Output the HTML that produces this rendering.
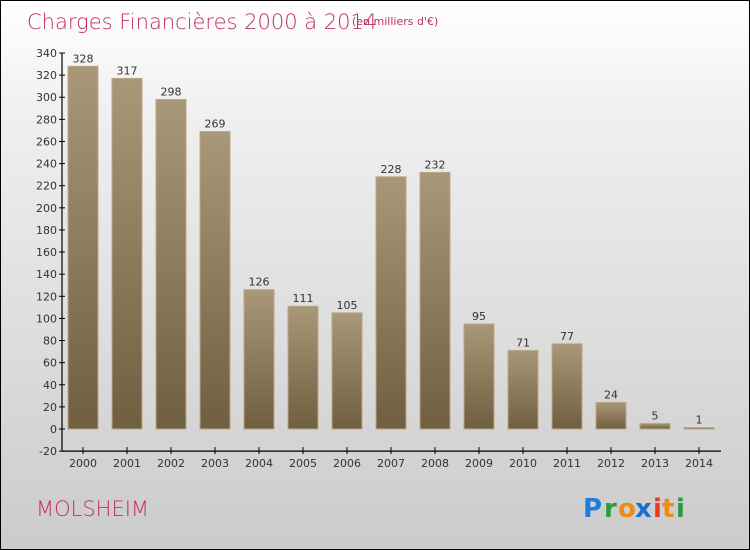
<!DOCTYPE html>
<html><head><meta charset="utf-8"><style>
body{margin:0}
#c{position:relative;width:748px;height:548px;border:1px solid #000;background:linear-gradient(#fff,#f0f0f0 20%,#cbcbcb);font-family:"DejaVu Sans","Liberation Sans",sans-serif;overflow:hidden}
</style></head><body>
<div id="c">
<svg width="748" height="548" style="position:absolute;left:0;top:0" id="svg">
<defs><linearGradient id="bg" x1="0" y1="0" x2="0" y2="1"><stop offset="0" stop-color="#a99878"/><stop offset="1" stop-color="#6f5f40"/></linearGradient></defs>
<text x="26" y="28" font-size="21" fill="#c0305e" font-family="DejaVu Sans" font-weight="200">Charges Financières 2000 à 2014</text>
<text x="351" y="24" font-size="11" fill="#c0305e">(en milliers d'€)</text>
<text x="35" y="515" font-size="21" fill="#c0305e" font-weight="200">MOLSHEIM</text>
<g font-size="26" font-family="DejaVu Sans" font-weight="bold">
<text x="582" y="516" fill="#1a7fd8">P</text><text x="603" y="516" fill="#2a9a3a">r</text><text x="617" y="516" fill="#f08a10">o</text><text x="634" y="516" fill="#1a6fd0">x</text><text x="652" y="516" fill="#e83a20">i</text><text x="661" y="516" fill="#f08a10">t</text><text x="675" y="516" fill="#2a9a3a">i</text>
</g>
<g id="plot"></g>
</svg>
</div>
<script>
const categories=["2000","2001","2002","2003","2004","2005","2006","2007","2008","2009","2010","2011","2012","2013","2014"];
const values=[328,317,298,269,126,111,105,228,232,95,71,77,24,5,1];
const yTicks=[-20,0,20,40,60,80,100,120,140,160,180,200,220,240,260,280,300,320,340];
const y=v=>428-v*(376/340);
const x=i=>82+i*44;
const g=document.getElementById('plot');
const NS="http://www.w3.org/2000/svg";
function mk(t,a){const e=document.createElementNS(NS,t);for(const k in a)e.setAttribute(k,a[k]);g.appendChild(e);return e;}
let e=mk('line',{x1:61,y1:y(340),x2:61,y2:y(-20),stroke:'#000','stroke-width':1.2});


e=mk('line',{x1:61,y1:y(-20),x2:720,y2:y(-20),stroke:'#000','stroke-width':1.2});


yTicks.forEach(t=>{
 mk('line',{x1:58,x2:64,y1:y(t),y2:y(t),stroke:'#000'});
 const tx=mk('text',{x:56,y:y(t)+4,'text-anchor':'end','font-size':11,fill:'#333'});
 tx.textContent=t;
 
 
});
categories.forEach((c,i)=>{
 const v=values[i];
 const top=y(Math.max(v,0)), h=Math.max(Math.abs(y(v)-y(0)),1.5);
 const r=mk('rect',{x:x(i)-15,y:Math.min(top,y(0)-1.5),width:30,height:h,fill:'url(#bg)',stroke:'#b8a888','stroke-width':1});
 
 
 const lb=mk('text',{x:x(i),y:Math.min(top,y(0)-1.5)-4,'text-anchor':'middle','font-size':11,fill:'#333'});
 lb.textContent=v;
 
 
 mk('line',{x1:x(i),x2:x(i),y1:y(-20)-4,y2:y(-20)+3,stroke:'#000'});
 const xl=mk('text',{x:x(i),y:y(-20)+16,'text-anchor':'middle','font-size':11,fill:'#333'});
 xl.textContent=c;
 
 
});
</script>
</body></html>
